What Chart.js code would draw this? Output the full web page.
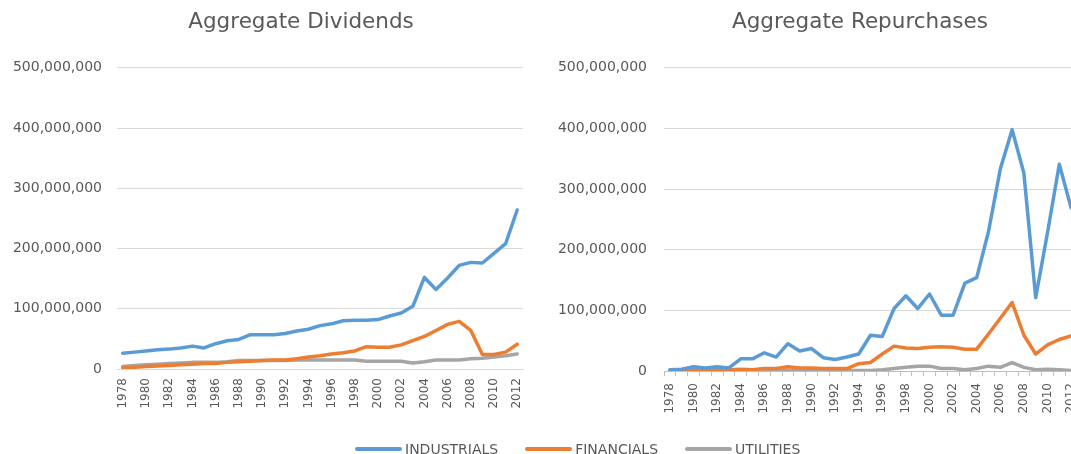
<!DOCTYPE html>
<html>
<head>
<meta charset="utf-8">
<script src="https://cdn.jsdelivr.net/npm/chart.js@4.4.1/dist/chart.umd.min.js"></script>
<style>
  html, body { margin: 0; padding: 0; background: #fff; width: 1071px; height: 454px; overflow: hidden; position: relative; }
  #divWrap { position: absolute; left: 0; top: 0; }
  #repWrap { position: absolute; left: 550px; top: 0; }
  #legend { position: absolute; left: 355px; top: 440px; display: flex; font: 14px 'DejaVu Sans', sans-serif; color: #595959; }
  #legend .item { display: flex; align-items: center; margin-right: 27px; line-height: 18px; }
  #legend .item i { display: inline-block; width: 47px; height: 4px; margin-right: 3px; border-radius: 2px; }
</style>
</head>
<body>
<div id="divWrap"><canvas id="divChart" width="602" height="454"></canvas></div>
<div id="repWrap"><canvas id="repChart" width="620" height="454"></canvas></div>
<div id="legend"></div>
<script>
const FONT = "'DejaVu Sans', sans-serif";
const M = 1000000; // values below are in millions

const years = [1978, 1979, 1980, 1981, 1982, 1983, 1984, 1985, 1986, 1987, 1988, 1989,
  1990, 1991, 1992, 1993, 1994, 1995, 1996, 1997, 1998, 1999, 2000, 2001, 2002, 2003,
  2004, 2005, 2006, 2007, 2008, 2009, 2010, 2011, 2012];

const seriesNames = ['INDUSTRIALS', 'FINANCIALS', 'UTILITIES'];
const seriesColors = ['#5b9bd5', '#ed7d31', '#a5a5a5'];

// Aggregate Dividends
const divIndustrials = [26, 28, 30, 32, 33, 35, 38, 35, 42, 47, 49, 57, 57, 57, 59, 63, 66, 72,
  75, 80, 81, 81, 82, 88, 93, 104, 152, 132, 151, 172, 177, 176, 192, 208, 264];
const divFinancials = [2, 3, 4, 5, 6, 7, 8, 9, 9, 11, 12, 13, 14, 15, 15, 17, 20, 22,
  25, 27, 30, 37, 36, 36, 40, 47, 54, 64, 74, 79, 64, 24, 24, 28, 41];
const divUtilities = [4, 6, 7, 8, 9, 10, 11, 11, 11, 12, 14, 14, 14, 14, 14, 15, 15, 15,
  15, 15, 15, 13, 13, 13, 13, 10, 12, 15, 15, 15, 17, 18, 20, 22, 25];

// Aggregate Repurchases
const repIndustrials = [2, 3, 7, 5, 7, 5, 20, 20, 30, 23, 45, 33, 37, 22, 19, 23, 28, 59,
  57, 103, 124, 103, 127, 92, 92, 145, 154, 230, 333, 398, 326, 121, 228, 341, 269];
const repFinancials = [1, 1.5, 2, 2, 2, 2, 3, 2, 4, 4, 7, 5, 5, 4, 4, 4, 12, 14,
  28, 41, 38, 37, 39, 40, 39, 36, 36, 61, 87, 113, 59, 28, 43, 52, 58];
const repUtilities = [1, 1, 1, 1, 1, 1, 1, 1, 1, 1, 1, 1, 1, 1, 1, 1, 1, 1,
  2, 4, 6, 8, 8, 4, 4, 2, 4, 8, 6, 14, 6, 2, 3, 2, 1];

function drawChart(canvasId, title, series, o) {
  const ctx = document.getElementById(canvasId);
  new Chart(ctx, {
    type: 'line',
    data: {
      labels: years,
      datasets: series.map((v, i) => ({
        label: seriesNames[i],
        data: v.map((n) => n * M),
        borderColor: seriesColors[i],
        backgroundColor: seriesColors[i],
        borderWidth: 3.5,
        pointRadius: 0,
        tension: 0,
        borderCapStyle: 'round',
        borderJoinStyle: 'round'
      }))
    },
    options: {
      responsive: false,
      animation: false,
      devicePixelRatio: 1,
      plugins: {
        legend: { display: false },
        tooltip: { enabled: false },
        title: {
          display: true, text: title, color: '#595959',
          font: { family: FONT, size: 21.5, weight: 'normal' },
          padding: { top: 10, bottom: 32 }
        }
      },
      scales: {
        x: {
          offset: true,
          grid: { display: o.ticks, offset: true, drawOnChartArea: false, drawTicks: o.ticks, tickLength: 5, color: '#bfbfbf' },
          border: { display: true, color: o.ticks ? '#bfbfbf' : '#d9d9d9' },
          ticks: {
            autoSkip: false, maxRotation: 90, minRotation: 90, padding: o.ticks ? 7 : 9,
            color: '#595959', font: { family: FONT, size: 12 },
            callback: (v, i) => (i % 2 ? '' : years[i])
          },
          afterFit: (s) => { s.height = o.xHeight; }
        },
        y: {
          min: 0, max: 500 * M,
          ticks: {
            stepSize: 100 * M, padding: o.yPad, color: '#595959',
            font: { family: FONT, size: 14 },
            callback: (v) => v.toLocaleString('en-US')
          },
          grid: { color: '#d9d9d9', drawTicks: false },
          border: { display: false },
          afterFit: (s) => { s.width = o.yWidth; }
        },
        // empty right-hand spacer, keeps the title centred like the original
        spacer: {
          position: 'right',
          ticks: { display: false },
          grid: { display: false },
          border: { display: false },
          afterFit: (s) => { s.width = o.rightGap; }
        }
      }
    }
  });
}

function renderLegend() {
  document.getElementById('legend').innerHTML = seriesNames.map((n, i) => `
    <span class="item"><i style="background:${seriesColors[i]}"></i>${n}</span>
  `).join('');
}

drawChart('divChart', 'Aggregate Dividends', [divIndustrials, divFinancials, divUtilities],
  { yWidth: 117, yPad: 15, rightGap: 79, xHeight: 85, ticks: false });
drawChart('repChart', 'Aggregate Repurchases', [repIndustrials, repFinancials, repUtilities],
  { yWidth: 114, yPad: 17, rightGap: 93, xHeight: 83, ticks: true });
renderLegend();
</script>
</body>
</html>
